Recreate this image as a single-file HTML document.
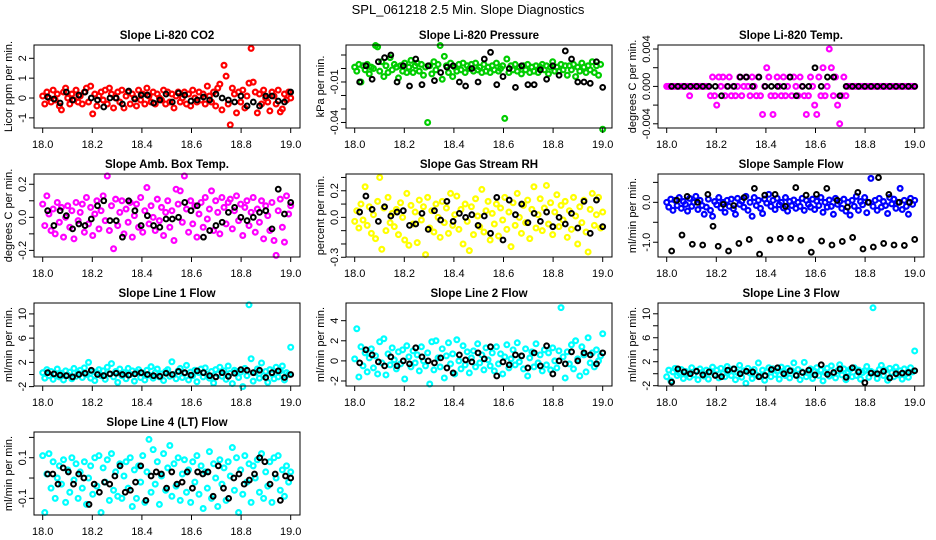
<!DOCTYPE html>
<html><head><meta charset="utf-8"><style>
html,body{margin:0;padding:0;background:#fff;}
svg{display:block;font-family:"Liberation Sans",sans-serif;}
</style></head><body>
<svg id="chart" width="936" height="540" viewBox="0 0 936 540">
<text x="468" y="14" text-anchor="middle" font-size="13">SPL_061218  2.5 Min. Slope Diagnostics</text>
</svg>
<script>
const xTicks = [18.0,18.2,18.4,18.6,18.8,19.0];
const xTickLabels = ["18.0","18.2","18.4","18.6","18.8","19.0"];

const co2Color = [0.1,-0.3,0.3,0.0,-0.2,0.4,-0.1,0.2,-0.4,-0.6,0.3,0.5,0.0,-0.3,0.2,-0.1,0.4,-0.2,0.1,-0.3,0.3,0.5,-0.2,0.6,-0.8,0.2,-0.4,0.1,0.3,-0.1,0.4,-0.3,0.5,0.2,-0.5,0.0,0.3,-0.2,0.4,-0.5,0.1,0.3,-0.3,0.2,0.0,-0.4,0.4,-0.1,0.2,-0.3,0.5,0.1,-0.2,0.3,-0.3,0.2,0.0,-0.1,0.4,-0.3,0.3,-0.2,0.2,-0.5,0.1,0.3,-0.2,0.0,0.3,-0.3,0.2,-0.4,0.4,0.0,-0.2,0.3,-0.1,0.2,-0.3,0.6,0.1,-0.2,0.3,-0.4,0.5,0.7,-0.6,1.65,1.1,-0.3,-1.35,0.5,0.2,-0.75,0.3,-0.2,0.4,-0.5,0.1,0.75,2.5,0.8,0.3,-0.75,0.2,-0.3,0.4,0.0,-0.2,-0.65,0.3,0.1,-0.3,0.4,-0.7,-0.55,0.2,-0.1,0.3,0.0];
const co2Black = [0.05,-0.05,-0.25,0.3,-0.1,0.15,0.3,0.0,-0.1,-0.45,0.0,0.0,-0.3,0.35,-0.05,0.15,0.15,-0.25,-0.1,0.2,-0.2,0.25,0.15,-0.15,-0.1,0.05,-0.1,0.2,0.0,-0.1,-0.2,0.1,-0.4,-0.2,-0.4,0.1,0.1,-0.15,-0.2,0.3];

const pressColor = [1,-2,3,-10,2,-1,3,-4,1,0,17,16,-2,5,-6,2,-3,8,-1,3,1,-7,2,-2,4,-3,1,6,-3,2,4,-2,3,-5,1,-40,2,-4,5,-1,3,17,-8,9,2,-3,4,-6,1,-2,3,-1,4,-3,2,0,3,-2,4,-1,1,-3,3,-2,1,-3,2,-1,4,-2,0,2,-37,7,-3,2,-1,3,-2,1,-4,2,-1,3,-3,1,-2,2,-3,1,3,-1,2,-4,1,5,-2,1,-2,3,-1,2,-5,2,-1,3,-6,1,-2,4,1,-3,2,-1,5,-3,2,-5,3,-45];
const pressBlack = [-10,2,-8,5,8,10,-10,2,-13,7,-12,2,-9,-3,1,2,-10,-13,0,-10,7,12,-12,-6,0,-14,2,-12,-12,-1,-8,2,-5,13,7,-10,-10,-11,5,-14];

const tempColor = [0,0,0,0,0,0,0,0,0,0,0,-1,0,0,0,0,0,0,0,0,0,-1,1,-1,-2,1,0,1,-1,0,1,-1,0,-1,0,1,-1,0,1,0,-1,1,0,-1,1,-1,-3,0,2,1,-1,-3,-1,1,0,-1,1,-1,0,1,-1,1,0,-1,1,0,-1,-3,-1,1,0,-2,-3,1,-1,2,-1,0,4,2,-1,1,-2,-4,-1,1,-1,0,0,0,0,0,0,0,0,0,0,0,0,0,0,0,0,0,0,0,0,0,0,0,0,0,0,0,0,0,0,0,0,0];
const tempBlack = [0,0,0,0,0,0,0,0,-1,0,0,1,1,0,1,0,0,0,0,1,-1,0,0,2,0,1,1,-1,0,0,0,0,0,0,0,0,0,0,0,0];

const ambColor = [0.08,-0.05,0.13,0.02,-0.08,0.05,-0.1,0.09,-0.03,0.06,-0.12,0.0,0.07,-0.06,0.04,-0.13,0.09,-0.02,0.03,0.08,-0.09,0.12,-0.04,0.06,-0.11,0.02,0.1,-0.07,0.04,0.13,-0.02,0.25,-0.08,0.07,-0.19,0.11,-0.05,0.03,0.1,-0.1,0.05,-0.03,0.09,-0.12,0.01,0.08,-0.06,0.12,-0.09,0.04,0.18,-0.04,0.07,0.0,-0.08,0.11,-0.02,0.06,-0.11,0.03,0.1,-0.06,0.04,-0.14,0.17,0.08,0.16,-0.03,0.25,0.05,-0.09,0.1,-0.04,0.07,-0.12,0.02,0.09,-0.06,0.12,-0.01,0.05,0.16,-0.08,0.1,0.03,-0.1,0.12,0.06,-0.04,0.09,0.11,-0.07,0.04,0.13,-0.02,0.08,-0.11,0.06,0.1,-0.05,0.03,0.12,-0.09,0.05,-0.03,0.1,-0.13,0.07,0.01,-0.08,0.09,-0.14,-0.23,0.04,0.11,-0.06,-0.15,0.13,0.02,0.07];
const ambBlack = [0.04,-0.05,0.04,0.01,-0.07,-0.04,-0.05,-0.01,0.07,0.1,-0.02,-0.02,-0.12,0.1,0.04,-0.05,0.01,-0.05,-0.06,-0.01,-0.01,0.0,0.09,0.04,0.07,-0.12,-0.08,-0.05,-0.03,0.03,0.06,0.0,-0.02,0.0,0.03,0.04,-0.07,0.17,0.02,0.09];

const rhColor = [-0.03,0.05,-0.08,0.1,-0.02,0.23,-0.06,0.08,-0.12,0.02,-0.16,0.12,0.3,-0.24,0.07,-0.1,0.15,-0.04,0.03,-0.07,0.06,-0.13,0.11,0.0,-0.17,0.18,-0.21,0.09,-0.05,0.04,-0.19,0.13,-0.02,0.08,-0.28,0.15,-0.08,0.05,-0.11,0.1,0.0,-0.15,0.12,-0.04,0.07,-0.12,0.18,-0.06,0.02,0.16,-0.09,0.06,-0.2,0.1,-0.03,-0.25,0.08,-0.13,0.14,0.01,-0.07,0.21,-0.11,0.05,0.12,-0.17,0.03,-0.05,0.1,-0.14,0.07,-0.02,0.15,-0.09,0.04,-0.22,0.11,-0.06,0.18,0.0,-0.12,0.09,-0.04,0.13,-0.16,0.06,0.23,-0.08,0.02,0.14,-0.1,0.07,0.24,-0.05,0.11,-0.13,0.04,0.17,-0.07,0.09,-0.02,0.12,-0.15,0.05,-0.09,0.15,0.01,-0.2,0.08,-0.04,0.13,-0.11,-0.26,0.06,0.18,-0.06,0.02,0.15,-0.08,0.04];
const rhBlack = [0.04,0.16,0.06,-0.03,0.08,0.01,0.04,0.05,-0.06,-0.05,0.03,-0.09,0.05,-0.02,0.12,-0.03,0.03,0.0,0.02,-0.06,0.01,-0.12,0.15,-0.17,0.13,0.02,0.1,-0.04,0.03,-0.03,0.04,-0.07,0.0,-0.05,0.03,-0.08,0.12,-0.12,0.13,-0.07];

const flowColor = [0.0,-0.12,0.08,-0.2,0.05,-0.08,0.12,-0.15,0.02,-0.05,-0.22,0.1,-0.1,0.0,0.15,-0.18,0.05,-0.08,-0.3,-0.12,0.08,-0.2,-0.35,0.02,-0.06,0.12,-0.14,0.0,-0.25,0.05,-0.1,0.08,-0.16,-0.3,0.1,-0.05,0.03,-0.12,0.15,-0.2,0.0,-0.35,0.12,-0.08,0.05,-0.15,-0.28,0.08,-0.02,0.2,-0.1,0.05,-0.18,0.1,-0.06,0.0,-0.14,0.12,-0.22,0.02,-0.08,0.06,-0.15,0.0,-0.1,0.1,-0.2,0.05,-0.05,-0.12,0.08,-0.18,0.03,-0.08,0.12,-0.25,0.0,-0.12,0.06,-0.1,-0.3,0.1,-0.05,0.02,-0.15,0.08,-0.22,0.0,-0.32,0.05,-0.1,0.15,-0.2,0.02,-0.06,0.12,-0.26,0.0,0.6,-0.1,0.05,-0.2,0.1,-0.12,0.02,-0.08,-0.28,0.12,-0.04,0.08,-0.15,0.0,0.35,-0.18,0.05,-0.1,-0.3,0.1,-0.05,0.05];
const flowBlack = [-1.22,0.05,-0.82,0.15,-1.05,0.0,-1.07,0.2,-0.6,-1.1,-0.05,-1.22,-0.08,-1.03,0.12,-0.93,0.35,-1.3,0.18,-0.94,0.2,-0.9,-0.1,-0.9,0.37,-0.95,0.18,-1.25,0.2,-0.97,0.35,-1.07,0.05,-0.98,-0.12,-0.88,0.25,-1.17,0.0,-1.12,0.62,-1.03,0.2,-1.07,0.0,-1.08,0.0,-0.93];

const line1Color = [0.3,-0.6,0.8,-0.2,0.5,-0.8,0.1,0.9,-0.4,0.2,-0.9,0.6,-0.1,0.4,-0.7,1.0,-0.3,0.2,0.7,-0.5,1.1,0.0,2.0,-0.6,0.5,-1.0,0.3,0.8,-0.2,0.6,-0.8,1.2,0.1,1.8,-0.4,0.5,-1.3,0.9,-0.2,0.3,-0.7,1.0,0.0,0.6,-1.1,0.4,0.8,-0.5,0.2,-0.9,0.7,-0.1,1.3,-0.6,0.3,0.9,-0.4,0.1,-1.0,0.5,0.8,-0.3,2.1,0.0,-0.7,0.6,1.0,-0.5,0.2,1.5,-0.9,0.4,-0.2,0.7,-1.2,0.3,0.9,-0.4,1.1,0.0,-0.6,0.5,-1.4,0.8,0.1,1.2,-0.3,0.6,-0.8,1.4,0.2,-1.5,0.7,0.5,-0.5,0.4,-2.0,1.0,-0.2,11.5,2.6,-1.1,0.3,0.9,-0.6,1.9,-0.2,0.5,-1.3,0.8,0.1,-0.7,1.2,-0.4,0.6,1.4,-0.9,0.3,0.0,4.5];
const line1Black = [0.3,0.1,-0.1,-0.2,-0.4,0.0,0.2,0.7,0.0,-0.2,0.1,0.2,0.0,-0.1,0.1,0.3,0.0,-0.2,-0.3,0.2,0.0,0.5,0.3,-0.1,0.6,0.3,-0.2,-0.4,0.3,-0.3,0.2,0.8,0.7,0.3,0.7,-0.5,0.3,0.6,-0.5,0.0];

const line2Color = [0.2,3.2,-1.6,1.4,-0.5,0.8,-1.1,0.3,1.2,-0.7,0.5,-1.3,1.9,-0.2,2.2,-1.4,0.7,-0.4,1.3,0.1,-0.8,0.9,-0.3,1.1,-1.8,1.5,0.4,-0.6,1.0,-0.2,0.6,-1.0,1.4,0.0,-0.5,0.8,-2.3,1.9,-0.9,2.0,0.3,-0.6,1.2,-1.7,0.5,1.8,-0.3,0.7,-1.3,2.1,0.0,-0.8,1.5,-0.4,0.9,-1.2,0.3,1.0,-0.6,1.7,-0.2,0.6,-0.9,1.3,0.1,-0.5,0.8,-1.0,1.4,-0.3,0.7,-1.3,0.4,1.6,-0.7,0.2,1.1,-0.4,1.8,-0.1,0.5,-0.8,1.2,-1.5,0.3,0.9,-0.6,1.7,-0.2,0.6,-1.0,1.1,-0.4,0.8,-0.9,1.3,0.0,-0.7,1.0,5.3,0.4,-1.7,0.9,-0.3,1.6,-0.8,2.0,0.2,-1.5,1.4,0.6,-1.1,2.3,-0.2,0.8,-0.6,1.1,0.0,0.5,2.7];
const line2Black = [-0.2,1.1,0.6,-0.1,-0.5,0.4,-0.5,0.0,-0.3,1.3,0.4,0.0,-0.2,0.3,-0.7,-1.2,0.6,0.1,-0.1,0.8,0.2,1.4,-1.5,-0.1,-0.4,0.6,0.5,-0.7,0.8,-0.5,1.5,-1.3,0.0,-0.3,0.9,0.0,0.8,0.6,-0.3,0.8];

const line3Color = [-0.5,0.6,-1.2,0.3,0.9,-0.3,0.1,0.7,-0.8,0.4,0.0,-0.6,1.0,-0.2,0.5,-1.0,0.8,0.2,-0.4,0.6,-0.9,0.3,1.1,-0.1,0.6,-0.7,0.9,0.0,-0.5,1.2,0.4,-0.3,0.8,-1.0,0.2,1.4,-0.6,0.5,-1.6,0.9,0.1,-0.8,0.7,-0.2,1.8,-0.4,0.6,-1.1,0.3,1.0,-0.5,0.8,-0.1,0.4,-0.9,1.1,0.2,-0.3,0.9,-0.7,0.5,1.8,-0.2,0.7,-1.0,0.3,1.9,-0.5,0.1,0.8,-0.8,0.4,1.0,-0.3,0.6,-1.2,0.2,0.9,-0.4,1.3,0.0,-0.7,0.5,1.5,-0.2,0.8,-1.0,0.3,0.7,-0.5,1.0,-0.3,0.6,-0.9,0.2,0.5,1.2,-0.6,0.4,11.0,0.1,-0.8,0.7,1.4,-0.3,0.6,-1.1,0.9,0.2,-0.5,1.1,-0.2,0.5,-0.9,0.8,0.0,-0.6,1.0,0.3,3.8];
const line3Black = [-1.4,0.8,0.3,0.0,0.4,-0.2,0.3,-0.3,-0.5,0.6,0.8,0.0,0.4,0.3,-0.5,-0.3,0.7,1.0,0.0,0.5,-0.3,0.2,0.6,-0.2,1.5,-0.1,0.2,0.8,-0.6,1.0,0.3,-1.5,0.1,0.0,0.4,-0.7,0.0,0.1,0.2,0.5];

const line4Color = [0.11,-0.17,0.02,0.12,-0.05,0.08,-0.1,0.0,0.06,-0.03,0.09,-0.12,0.04,-0.07,0.1,-0.01,0.07,-0.1,0.03,-0.05,0.08,-0.13,0.0,0.06,-0.08,0.1,-0.04,0.11,-0.17,0.05,-0.02,0.09,-0.11,0.12,-0.06,0.03,-0.09,0.07,-0.1,0.01,0.08,-0.05,0.1,-0.14,0.04,-0.1,0.06,-0.02,0.11,-0.12,0.03,0.19,-0.07,0.14,-0.03,0.08,-0.13,0.01,0.12,-0.06,0.05,0.16,-0.09,0.07,-0.04,0.1,-0.11,0.02,0.09,-0.07,0.04,-0.12,0.08,-0.02,0.11,-0.08,0.06,-0.15,0.03,-0.05,0.13,-0.1,0.07,0.0,-0.14,0.09,-0.03,0.05,-0.11,0.08,0.01,0.15,-0.06,0.1,-0.17,0.04,-0.08,0.11,-0.02,0.07,-0.12,0.06,0.0,0.09,-0.07,0.12,-0.1,0.03,-0.04,0.08,-0.12,0.1,0.0,0.11,-0.06,0.04,-0.09,0.06,-0.02,0.03];
const line4Black = [0.02,0.02,-0.03,0.05,0.03,-0.03,0.02,0.0,-0.13,-0.03,-0.07,-0.02,-0.03,0.01,0.06,-0.07,-0.06,-0.02,0.06,-0.11,0.01,0.03,0.02,-0.05,0.03,-0.03,-0.02,0.03,-0.05,0.03,0.02,0.03,-0.09,0.06,-0.05,-0.1,0.0,0.02,-0.03,-0.01,0.02,0.1,0.08,-0.03,0.02,-0.11,0.01,0.0];

const panels = [
 {name:"co2", title:"Slope Li-820 CO2", ylab:"Licor ppm per min.", col:0,row:0, dom:[-1.51,2.67], color:"#ff0000", data:co2Color, black:co2Black,
  ticks:[-1,0,1,2], labels:["-1","0","1","2"]},
 {name:"pressure", title:"Slope Li-820 Pressure", ylab:"kPa per min.", col:1,row:0, dom:[-44.1,17.4], color:"#00cd00", data:pressColor, black:pressBlack,
  ticks:[10,0,-10,-20,-30,-40], labels:["","","-0.01","","","-0.04"]},
 {name:"li820-temp", title:"Slope Li-820 Temp.", ylab:"degrees C per min.", col:2,row:0, dom:[-4.45,4.43], color:"#ff00ff", data:tempColor, black:tempBlack,
  ticks:[4,2,0,-2,-4], labels:["0.004","","0.000","","-0.004"]},
 {name:"amb-box-temp", title:"Slope Amb. Box Temp.", ylab:"degrees C per min.", col:0,row:1, dom:[-0.24,0.262], color:"#ff00ff", data:ambColor, black:ambBlack,
  ticks:[0.2,0.1,0,-0.1,-0.2], labels:["0.2","","0.0","","-0.2"]},
 {name:"gas-stream-rh", title:"Slope Gas Stream RH", ylab:"percent per min.", col:1,row:1, dom:[-0.298,0.326], color:"#ffff00", data:rhColor, black:rhBlack,
  ticks:[0.3,0.2,0.1,0,-0.1,-0.2,-0.3], labels:["","0.2","","0.0","","","-0.3"]},
 {name:"sample-flow", title:"Slope Sample Flow", ylab:"ml/min per min.", col:2,row:1, dom:[-1.37,0.71], color:"#0000ff", data:flowColor, black:flowBlack,
  ticks:[0.5,0,-0.5,-1.0], labels:["","0.0","","-1.0"]},
 {name:"line1-flow", title:"Slope Line 1 Flow", ylab:"ml/min per min.", col:0,row:2, dom:[-1.9,11.8], color:"#00ffff", data:line1Color, black:line1Black,
  ticks:[10,8,6,4,2,0,-2], labels:["10","","6","","2","","-2"]},
 {name:"line2-flow", title:"Slope Line 2 Flow", ylab:"ml/min per min.", col:1,row:2, dom:[-2.5,5.76], color:"#00ffff", data:line2Color, black:line2Black,
  ticks:[4,2,0,-2], labels:["4","2","0","-2"]},
 {name:"line3-flow", title:"Slope Line 3 Flow", ylab:"ml/min per min.", col:2,row:2, dom:[-2.05,11.8], color:"#00ffff", data:line3Color, black:line3Black,
  ticks:[10,8,6,4,2,0,-2], labels:["10","","6","","2","","-2"]},
 {name:"line4-flow", title:"Slope Line 4 (LT) Flow", ylab:"ml/min per min.", col:0,row:3, dom:[-0.182,0.2266], color:"#00ffff", data:line4Color, black:line4Black,
  ticks:[0.2,0.1,0,-0.1], labels:["","0.1","","-0.1"]}
];

const NS="http://www.w3.org/2000/svg";
const svg=document.getElementById('chart');
const rowTops=[45,174,303,432];
function mk(tag,attrs,parent){const e=document.createElementNS(NS,tag);for(const k in attrs)e.setAttribute(k,attrs[k]);parent.appendChild(e);return e;}

panels.forEach(p=>{
  const off=p.col*312, top=rowTops[p.row], h=83, left=34+off, right=300+off, bottom=top+h;
  const xs=v=>42.7+off+(v-18)*248;
  const ys=v=>bottom-(v-p.dom[0])/(p.dom[1]-p.dom[0])*h;
  const g=mk('g',{},svg);
  
  
  const t=mk('text',{x:(left+right)/2,y:top-6,'text-anchor':'middle','font-size':'11.5','font-weight':'bold'},g);
  t.textContent=p.title;
  
  
  const pg=mk('g',{fill:'none'},g);
  
  
  const n=p.data.length;
  p.data.forEach((v,i)=>{
    const c=mk('circle',{cx:xs(18+i/(n-1)),cy:ys(v),r:2.4,stroke:p.color,'stroke-width':'2.2'},pg);
    
    
  });
  const nb=p.black.length;
  p.black.forEach((v,i)=>{
    const c=mk('circle',{cx:xs(18.02+i*0.98/(nb-1)),cy:ys(v),r:2.4,stroke:'#000','stroke-width':'2'},pg);
    
    
  });
  const b=mk('rect',{x:left,y:top,width:right-left,height:h,fill:'none',stroke:'#000','stroke-width':'1'},g);
  
  
  const xa=mk('g',{},g);
  
  
  xTicks.forEach((v,i)=>{
    mk('line',{x1:xs(v),x2:xs(v),y1:bottom,y2:bottom+5,stroke:'#000'},xa);
    const tl=mk('text',{x:xs(v),y:bottom+20,'text-anchor':'middle','font-size':'11'},xa);
    tl.textContent=xTickLabels[i];
    
    
  });
  const ya=mk('g',{},g);
  
  
  p.ticks.forEach((v,i)=>{
    const y=ys(v);
    mk('line',{x1:left-5,x2:left,y1:y,y2:y,stroke:'#000'},ya);
    if(p.labels[i]){
      const tl=mk('text',{x:0,y:0,'text-anchor':'middle','font-size':'11',transform:`translate(${left-8},${y}) rotate(-90)`},ya);
      tl.textContent=p.labels[i];
      
      
    }
  });
  const yl=mk('text',{x:0,y:0,'text-anchor':'middle','font-size':'11',transform:`translate(${off+12},${top+h/2}) rotate(-90)`},g);
  yl.textContent=p.ylab;
  
  
});
</script>
</body></html>
